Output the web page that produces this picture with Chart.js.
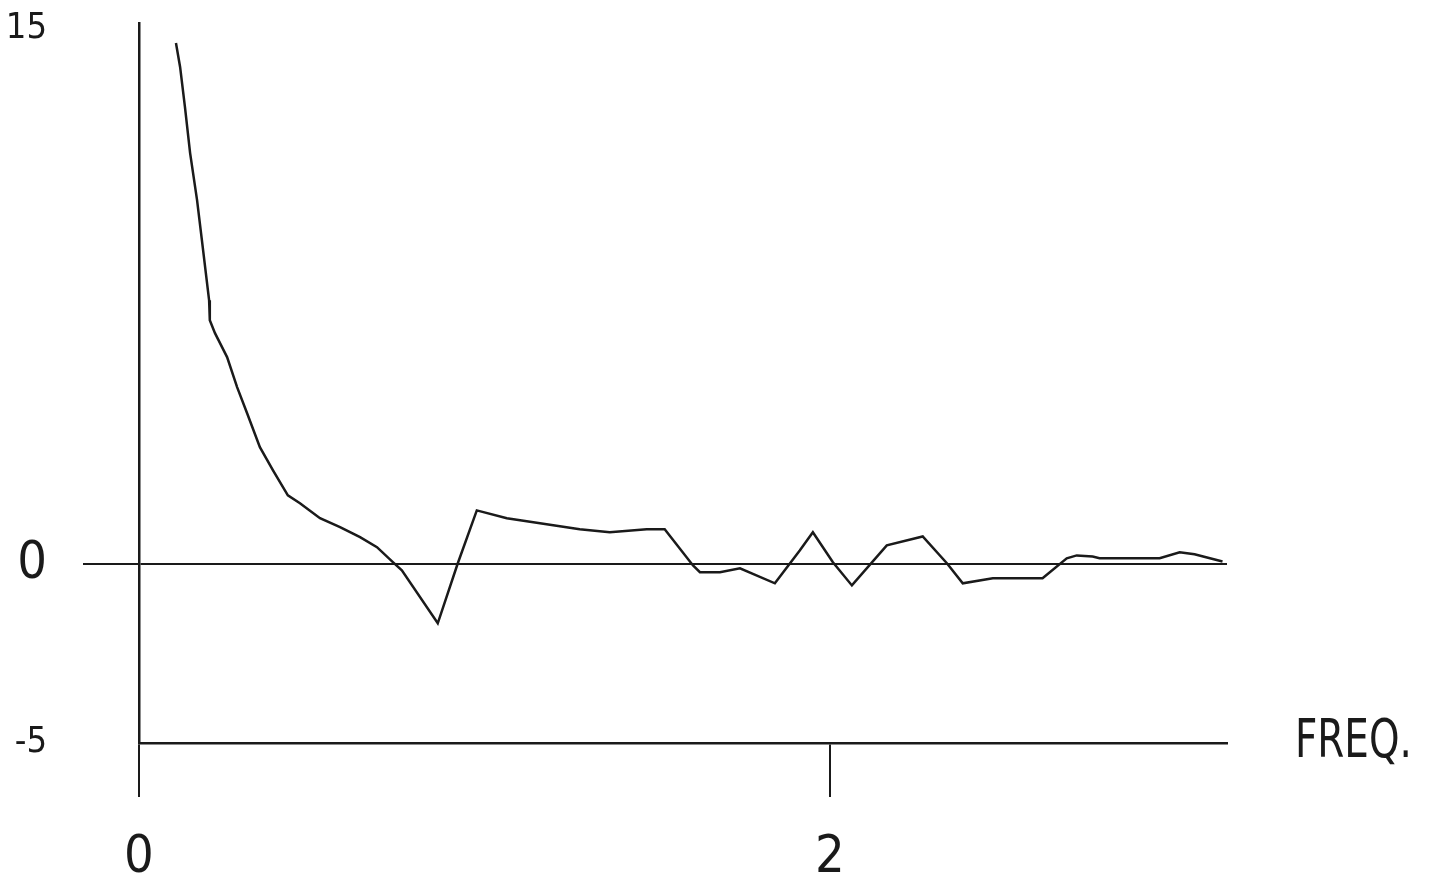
<!DOCTYPE html>
<html>
<head>
<meta charset="utf-8">
<script src="https://cdn.jsdelivr.net/npm/chart.js@4/dist/chart.umd.min.js"></script>
<style>
  html, body { margin: 0; padding: 0; background: #fff; }
  #wrap { width: 1436px; height: 880px; }
</style>
</head>
<body>
<div id="wrap"><canvas id="chart" width="1436" height="880"></canvas></div>
<script>
// values
const freqs = [0.107, 0.119, 0.133, 0.148, 0.168, 0.182, 0.203, 0.205, 0.220, 0.255,
  0.284, 0.313, 0.350, 0.388, 0.431, 0.466, 0.524, 0.582, 0.640, 0.689,
  0.735, 0.761, 0.865, 0.923, 0.978, 1.065, 1.161, 1.276, 1.363, 1.470,
  1.522, 1.604, 1.624, 1.682, 1.740, 1.841, 1.913, 1.951, 2.009, 2.064,
  2.165, 2.269, 2.339, 2.385, 2.472, 2.550, 2.616, 2.686, 2.715, 2.761,
  2.781, 2.955, 3.013, 3.056, 3.137]
const values = [14.59, 13.92, 12.80, 11.51, 10.20, 9.08, 7.39, 6.83, 6.47, 5.80,
  4.96, 4.23, 3.28, 2.63, 1.93, 1.71, 1.29, 1.04, 0.76, 0.48,
  0.06, -0.17, -1.65, 0.03, 1.51, 1.29, 1.15, 0.98, 0.90, 0.98,
  0.98, -0.03, -0.22, -0.22, -0.11, -0.53, 0.39, 0.90, 0.06, -0.59,
  0.53, 0.78, 0.03, -0.53, -0.39, -0.39, -0.39, 0.17, 0.25, 0.22,
  0.17, 0.17, 0.34, 0.28, 0.08]
const xTicks = [0, 2]
const yTicks = [-5, 0, 15]
const xLabel = "FREQ."

const ink = "#1a1a1a"
const font = "'DejaVu Sans Condensed', 'Liberation Sans Narrow', sans-serif"

// axis name drawn to the right of the bottom axis, squeezed like the plotter font
const freqLabel = {
  id: "freqLabel",
  afterDraw(chart) {
    const { ctx, chartArea, scales } = chart
    ctx.save()
    ctx.fillStyle = ink
    ctx.font = "54px " + font
    ctx.textAlign = "left"
    ctx.textBaseline = "middle"
    ctx.translate(chartArea.right + 68, scales.y.getPixelForValue(-5))
    ctx.scale(0.8, 1)
    ctx.fillText(xLabel, 0, 0)
    ctx.restore()
  }
}

const points = freqs.map((f, i) => ({ x: f, y: values[i] }))

new Chart(document.getElementById("chart").getContext("2d"), {
  type: "line",
  data: {
    datasets: [
      {
        data: points,
        borderColor: ink,
        borderWidth: 2.5,
        pointRadius: 0,
        tension: 0,
        fill: false
      }
    ]
  },
  options: {
    responsive: false,
    animation: false,
    layout: { padding: { top: 23, right: 209, left: 0, bottom: 0 } },
    plugins: { legend: { display: false }, tooltip: { enabled: false } },
    scales: {
      x: {
        type: "linear",
        min: 0,
        max: 3.15,
        afterBuildTicks: (s) => { s.ticks = xTicks.map((v) => ({ value: v })) },
        afterFit: (s) => {
          s.height = 137
          s.paddingLeft = 0
          s.paddingRight = 0
        },
        border: { color: ink, width: 2.5 },
        grid: { drawOnChartArea: false, color: ink, lineWidth: 2, tickLength: 54 },
        ticks: {
          color: ink,
          padding: 30,
          maxRotation: 0,
          font: { family: font, size: 52 },
          callback: (v) => String(v)
        }
      },
      y: {
        min: -5,
        max: 15.15,
        afterBuildTicks: (s) => { s.ticks = yTicks.map((v) => ({ value: v })) },
        afterFit: (s) => {
          s.width = 139
          s.paddingTop = 0
          s.paddingBottom = 0
        },
        border: { color: ink, width: 2.5 },
        grid: {
          color: (c) => (c.tick && c.tick.value === 0 ? ink : "rgba(0,0,0,0)"),
          tickColor: (c) => (c.tick && c.tick.value === 0 ? ink : "rgba(0,0,0,0)"),
          lineWidth: 2,
          tickLength: 56
        },
        ticks: {
          color: ink,
          padding: 36,
          font: (c) => ({ family: font, size: c.tick && c.tick.value === 0 ? 52 : 36 }),
          callback: (v) => String(v)
        }
      }
    }
  },
  plugins: [freqLabel]
})
</script>
</body>
</html>
